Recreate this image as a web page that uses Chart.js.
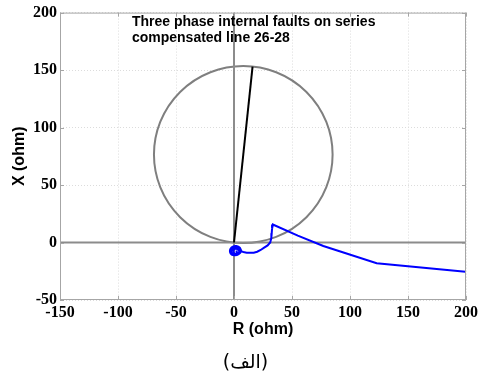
<!DOCTYPE html>
<html>
<head>
<meta charset="utf-8">
<script src="https://cdn.jsdelivr.net/npm/chart.js@4.4.0/dist/chart.umd.min.js"></script>
<style>
  body { margin: 0; background: #ffffff; }
  canvas { display: block; }
</style>
</head>
<body>
<canvas id="ZChart" width="481" height="376"></canvas>
<script>
// impedance trajectory seen by the relay (ohm), outer part
const trajR = [199.5, 123, 77, 55, 33.5, 32.8, 32.5, 32.2, 31.2, 29, 26, 23, 20, 17, 14, 11, 8, 6];
const trajX = [-25.4, -18, -3, 6, 15.7, 12, 8, 4, 0, -2.5, -4.5, -6.5, -8, -8.8, -9, -8.8, -8.2, -7.5];

// the small loop close to the origin
const loopR = [6, 5, 2, -1, -3, -3.5, -2, 1, 4, 6, 5.5, 3, 0, -2, -2, 0, 3, 4.5, 3.5, 1, -0.5, 0.5, 2.5, 2];
const loopX = [-7.5, -4.5, -3, -3.5, -5.5, -8, -10.5, -11, -10, -8, -5.5, -4, -4.5, -6.5, -9, -10.5, -10, -8, -6, -5.5, -7.5, -9.5, -9, -7];

// line impedance 26-28 and the mho circle built on it
const lineR = [0, 16];
const lineX = [0, 153];
const mhoCenter = [8, 76.5];
const mhoRadius = 77;

const xTicks = [-150, -100, -50, 0, 50, 100, 150, 200];
const yTicks = [-50, 0, 50, 100, 150, 200];

const titleLines = ["Three phase internal faults on series", "compensated line 26-28"];
const caption = "(الف)";

function pts(a, b) {
    let out = [];
    for (let i = 0; i < a.length; i++) {
        out.push({x: a[i], y: b[i]});
    }
    return out;
}

const tickFont = {family: "'Liberation Serif'", size: 16, weight: 'bold'};
const titleFont = {family: "'Liberation Sans'", size: 16, weight: 'bold'};

const boxPlugin = {
    id: 'box',
    beforeDatasetsDraw(chart) {
        const ctx = chart.ctx;
        const xs = chart.scales.x, ys = chart.scales.y;
        const cx = xs.getPixelForValue(mhoCenter[0]);
        const cy = ys.getPixelForValue(mhoCenter[1]);
        const rx = Math.abs(xs.getPixelForValue(mhoCenter[0] + mhoRadius) - cx);
        const ry = Math.abs(ys.getPixelForValue(mhoCenter[1] + mhoRadius) - cy);
        ctx.save();
        ctx.strokeStyle = '#7f7f7f';
        ctx.lineWidth = 2;
        ctx.beginPath();
        ctx.ellipse(cx, cy, rx, ry, 0, 0, Math.PI * 2);
        ctx.stroke();
        ctx.restore();
    },
    afterDraw(chart) {
        const ctx = chart.ctx;
        const a = chart.chartArea;
        const xs = chart.scales.x, ys = chart.scales.y;
        ctx.save();
        ctx.strokeStyle = '#a6a6a6';
        ctx.lineWidth = 1;
        ctx.strokeRect(a.left + 0.5, a.top + 0.5, a.right - a.left - 1, a.bottom - a.top - 1);
        ctx.beginPath();
        xTicks.forEach(v => {
            const p = Math.round(xs.getPixelForValue(v)) + 0.5;
            ctx.moveTo(p, a.bottom); ctx.lineTo(p, a.bottom - 4);
            ctx.moveTo(p, a.top); ctx.lineTo(p, a.top + 4);
        });
        yTicks.forEach(v => {
            const p = Math.round(ys.getPixelForValue(v)) + 0.5;
            ctx.moveTo(a.left, p); ctx.lineTo(a.left + 4, p);
            ctx.moveTo(a.right, p); ctx.lineTo(a.right - 4, p);
        });
        ctx.stroke();

        ctx.fillStyle = '#000000';
        ctx.font = "bold 14px 'Liberation Sans'";
        ctx.textBaseline = 'middle';
        ctx.textAlign = 'left';
        const tx = xs.getPixelForValue(-88);
        ctx.fillText(titleLines[0], tx, ys.getPixelForValue(191.5));
        ctx.fillText(titleLines[1], tx, ys.getPixelForValue(178));

        ctx.font = "19px 'DejaVu Sans'";
        ctx.textAlign = 'center';
        ctx.fillText(caption, 245.5, 363);
        ctx.restore();
    }
};

const config = {
    type: 'scatter',
    data: {
        datasets: [
            {
                label: 'trajectory',
                data: pts(trajR, trajX),
                showLine: true,
                borderColor: '#0000ff',
                borderWidth: 2,
                pointRadius: 0,
                tension: 0,
                order: 1
            },
            {
                label: 'loop',
                data: pts(loopR, loopX),
                showLine: true,
                borderColor: '#0000ff',
                borderWidth: 2,
                pointRadius: 0,
                tension: 0.4,
                order: 1
            },
            {
                label: 'line',
                data: pts(lineR, lineX),
                showLine: true,
                borderColor: '#000000',
                borderWidth: 2,
                pointRadius: 0,
                order: 2
            },
            {
                label: 'Raxis',
                data: [{x: -150, y: 0}, {x: 200, y: 0}],
                showLine: true,
                borderColor: '#8c8c8c',
                borderWidth: 2,
                pointRadius: 0,
                order: 3
            },
            {
                label: 'Xaxis',
                data: [{x: 0, y: -50}, {x: 0, y: 200}],
                showLine: true,
                borderColor: '#8c8c8c',
                borderWidth: 2,
                pointRadius: 0,
                order: 3
            }
        ]
    },
    options: {
        responsive: false,
        animation: false,
        layout: {
            padding: {left: 0, right: 15, top: 12, bottom: 33}
        },
        plugins: {
            legend: {display: false},
            tooltip: {enabled: false}
        },
        scales: {
            x: {
                min: -150,
                max: 200,
                afterBuildTicks: s => { s.ticks = xTicks.map(v => ({value: v})); },
                afterFit: s => { s.height = 43; },
                ticks: {color: '#000000', font: tickFont, padding: 3, maxRotation: 0},
                grid: {color: '#dcdcdc', drawTicks: false},
                border: {display: false, dash: [1, 2]},
                title: {display: true, text: 'R (ohm)', color: '#000000', font: titleFont, padding: {top: 4, bottom: 4}}
            },
            y: {
                min: -50,
                max: 200,
                afterBuildTicks: s => { s.ticks = yTicks.map(v => ({value: v})); },
                afterFit: s => { s.width = 60; },
                ticks: {color: '#000000', font: tickFont, padding: 3},
                grid: {color: '#dcdcdc', drawTicks: false},
                border: {display: false, dash: [1, 2]},
                title: {display: true, text: 'X (ohm)', color: '#000000', font: titleFont, padding: {top: 10, bottom: 4}}
            }
        }
    },
    plugins: [boxPlugin]
};

var ZChart = new Chart(document.getElementById('ZChart'), config);
</script>
</body>
</html>
